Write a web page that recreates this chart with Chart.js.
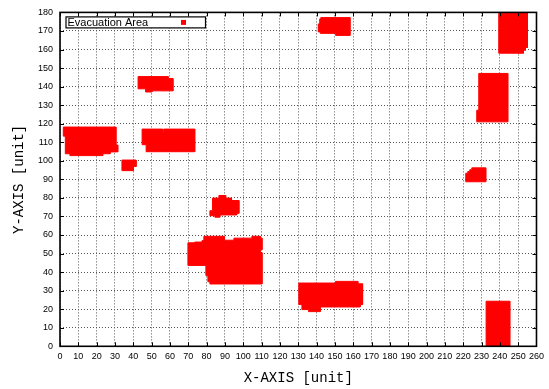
<!DOCTYPE html>
<html><head><meta charset="utf-8">
<script src="https://cdn.jsdelivr.net/npm/chart.js@4/dist/chart.umd.min.js"></script>
<style>html,body{margin:0;padding:0;background:#fff;}#wrap{width:549px;height:389px;}</style>
</head><body><div id="wrap"><canvas id="c" width="549" height="389"></canvas></div>
<script>
// Axis ranges / ticks
const xRange = [0, 260];
const yRange = [0, 180];
const tickStep = 10;
const seriesLabel = "Evacuation Area";
const xTitle = "X-AXIS [unit]";
const yTitle = "Y-AXIS [unit]";

// Outline vertices (x, y) of each evacuation area
const area1 = [[1.8,118.2],[30.5,118.2],[30.5,108.5],[31.5,108.5],[31.5,104.8],[27.3,104.8],[27.3,103.8],[23.3,103.8],[23.3,102.8],[5.4,102.8],[5.4,103.8],[2.9,103.8],[2.9,113.3],[1.8,113.3]];
const area2 = [[33.8,100.4],[41.5,100.4],[41.5,96.9],[40,96.9],[40,94.7],[33.8,94.7]];
const area3 = [[42.6,145.4],[59,145.4],[59,144.4],[61.6,144.4],[61.6,137.7],[50.2,137.7],[50.2,137.1],[46.7,137.1],[46.7,138.8],[42.6,138.8]];
const area4 = [[44.8,117.1],[56.0,117.1],[56.0,115.7],[56.6,115.7],[56.6,117.1],[73.5,117.1],[73.5,104.9],[47,104.9],[47,108.7],[44.8,108.7]];
const area5 = [[86.7,81.3],[90.4,81.3],[90.4,79.9],[93.6,79.9],[93.6,78.6],[97.6,78.6],[97.6,71.7],[96.4,71.7],[96.4,70.8],[87.2,70.8],[87.2,69.6],[84.5,69.6],[84.5,70.4],[81.8,70.4],[81.8,73.1],[83,73.1],[83,78.6],[83.3,78.6],[83.3,79.9],[86.7,79.9]];
const area6 = [[69.8,55.8],[73.5,55.8],[73.5,56.2],[77.5,56.2],[77.5,57.0],[78.5,57.0],[78.5,59.3],[89.6,59.3],[89.6,57.2],[94.9,57.2],[94.9,58.3],[104.7,58.3],[104.7,59.3],[109.3,59.3],[109.3,58.3],[110.2,58.3],[110.2,52],[109.2,52],[109.2,50.5],[110.2,50.5],[110.2,33.6],[81.8,33.6],[81.8,34.8],[80.7,34.8],[80.7,38.2],[79.6,38.2],[79.6,43.6],[69.8,43.6]];
const area7 = [[130.3,34.1],[150.3,34.1],[150.3,35.0],[162.5,35.0],[162.5,33.7],[165.1,33.7],[165.1,22.5],[163.8,22.5],[163.8,21.2],[142,21.2],[142,18.7],[135.6,18.7],[135.6,19.8],[132,19.8],[132,22.5],[130.3,22.5]];
const area8 = [[142.3,177.2],[158.2,177.2],[158.2,167.6],[150.4,167.6],[150.4,168.7],[142,168.7],[142,169.5],[140.9,169.5],[140.9,173.8],[141.7,173.8],[141.7,176.5],[142.3,176.5]];
const area9 = [[224.7,96.2],[232.3,96.2],[232.3,88.7],[221.4,88.7],[221.4,93.3],[222.5,93.3],[222.5,94.2],[223.6,94.2],[223.6,95.2],[224.7,95.2]];
const area10 = [[228.5,147.1],[244.3,147.1],[244.3,121.0],[227.4,121.0],[227.4,127.3],[228.5,127.3]];
const area11 = [[239.4,179.5],[243.3,179.5],[243.3,180],[255.1,180],[255.1,161.1],[254,161.1],[254,159.6],[252.9,159.6],[252.9,158.0],[239.4,158.0]];
const area12 = [[232.5,24.3],[245.4,24.3],[245.4,0],[232.5,0]];

const areas = [area1,area2,area3,area4,area5,area6,area7,area8,area9,area10,area11,area12];
const RED = '#ff0000';

const datasets = areas.map((a, i) => ({
  label: seriesLabel,
  data: a.concat([a[0]]).map(p => ({x: p[0], y: p[1]})),
  showLine: true,
  fill: 'shape',
  backgroundColor: RED,
  borderColor: RED,
  borderWidth: 1,
  pointRadius: 0,
  pointHoverRadius: 0,
  tension: 0
}));

const framePlugin = {
  id: 'frame',
  afterDatasetsDraw(chart) {
    const {ctx, chartArea: a, scales} = chart;
    ctx.save();
    // inward tick marks on all four sides
    ctx.strokeStyle = '#000';
    ctx.lineWidth = 1;
    const tl = 4;
    ctx.beginPath();
    scales.x.ticks.forEach(t => {
      const px = Math.round(scales.x.getPixelForValue(t.value)) + 0.5;
      ctx.moveTo(px, a.bottom); ctx.lineTo(px, a.bottom - tl);
      ctx.moveTo(px, a.top); ctx.lineTo(px, a.top + tl);
    });
    scales.y.ticks.forEach(t => {
      const py = Math.round(scales.y.getPixelForValue(t.value)) + 0.5;
      ctx.moveTo(a.left, py); ctx.lineTo(a.left + tl, py);
      ctx.moveTo(a.right, py); ctx.lineTo(a.right - tl, py);
    });
    ctx.stroke();
    // border
    ctx.lineWidth = 1.6;
    ctx.strokeRect(a.left, a.top, a.right - a.left, a.bottom - a.top);
    // key box
    const bx = a.left + 6, by = a.top + 4.5, bw = 139.5, bh = 11;
    ctx.fillStyle = '#fff';
    ctx.fillRect(bx, by, bw, bh);
    ctx.lineWidth = 1.2;
    ctx.strokeRect(bx, by, bw, bh);
    ctx.fillStyle = '#000';
    ctx.font = '11px "Liberation Sans", Arial, sans-serif';
    ctx.textBaseline = 'middle';
    ctx.textAlign = 'left';
    ctx.fillText(seriesLabel, bx + 1.5, by + bh / 2 + 0.5);
    ctx.fillStyle = RED;
    ctx.fillRect(bx + 115, by + 3, 5, 5);
    ctx.restore();
  }
};

new Chart(document.getElementById('c'), {
  type: 'scatter',
  data: { datasets },
  options: {
    responsive: false,
    animation: false,
    devicePixelRatio: 1,
    layout: { padding: { top: 10.7, right: 12.3, left: 0, bottom: 0 } },
    plugins: { legend: { display: false }, tooltip: { enabled: false } },
    scales: {
      x: {
        type: 'linear', min: xRange[0], max: xRange[1],
        afterFit: s => { s.height = 42.7; },
        ticks: { stepSize: tickStep, autoSkip: false, maxRotation: 0, padding: 5, color: '#000',
                 font: { family: '"Liberation Sans", Arial, sans-serif', size: 9 } },
        grid: { color: '#555', lineWidth: 1, drawTicks: false },
        border: { display: false, dash: [1, 2] },
        title: { display: true, text: xTitle, color: '#000', padding: { top: 0, bottom: 2 },
                 font: { family: '"Liberation Mono", "DejaVu Sans Mono", monospace', size: 14 } }
      },
      y: {
        type: 'linear', min: yRange[0], max: yRange[1],
        afterFit: s => { s.width = 60; },
        ticks: { stepSize: tickStep, autoSkip: false, padding: 7, color: '#000',
                 font: { family: '"Liberation Sans", Arial, sans-serif', size: 9 } },
        grid: { color: '#555', lineWidth: 1, drawTicks: false },
        border: { display: false, dash: [1, 2] },
        title: { display: true, text: yTitle, color: '#000', padding: { top: 10.6, bottom: 0 },
                 font: { family: '"Liberation Mono", "DejaVu Sans Mono", monospace', size: 14 } }
      }
    }
  },
  plugins: [framePlugin]
});
</script>
</body></html>
